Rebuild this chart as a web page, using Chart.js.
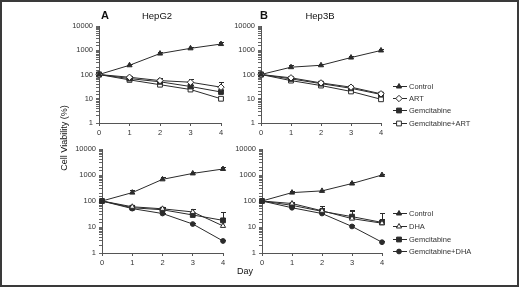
<!DOCTYPE html>
<html>
<head>
<meta charset="utf-8">
<script src="https://cdn.jsdelivr.net/npm/chart.js@4.4.0/dist/chart.umd.min.js"></script>
<style>
  body { margin: 0; background: #fff; }
  #page { position: relative; width: 520px; height: 288px; overflow: hidden; }
  #frame { position: absolute; left: 0; top: 0; width: 515px; height: 283px; border: 2px solid #3a3a3a; }
  canvas { position: absolute; }
</style>
</head>
<body>
<div id="page">
  <div id="frame"></div>
  <canvas id="texts" width="520" height="288" style="left:0;top:0;"></canvas>
</div>
<script>
// ---------------------------------------------------------------- DATA

var days = [0, 1, 2, 3, 4];
var yTickValues = [1, 10, 100, 1000, 10000];

var legendArt = ["Control", "ART", "Gemcitabine", "Gemcitabine+ART"];
var legendDha = ["Control", "DHA", "Gemcitabine", "Gemcitabine+DHA"];

// A top: HepG2, ART
var hepg2Control   = [100, 240, 730, 1200, 1800];
var hepg2ControlSd = [0, 40, 150, 200, 450];
var hepg2Art       = [100, 77, 56, 48, 30];
var hepg2ArtSd     = [0, 6, 15, 15, 20];
var hepg2Gem       = [100, 68, 50, 32, 19];
var hepg2GemSd     = [0, 5, 8, 6, 5];
var hepg2GemArt    = [100, 60, 38, 24, 10];
var hepg2GemArtSd  = [0, 4, 4, 3, 1.5];

// B top: Hep3B, ART
var hep3bControl   = [100, 200, 240, 500, 980];
var hep3bControlSd = [0, 40, 40, 80, 150];
var hep3bArt       = [100, 73, 45, 30, 16];
var hep3bArtSd     = [0, 6, 5, 4, 2];
var hep3bGem       = [100, 66, 42, 27, 15];
var hep3bGemSd     = [0, 6, 5, 4, 3];
var hep3bGemArt    = [100, 56, 35, 20, 9.5];
var hep3bGemArtSd  = [0, 4, 3, 2, 1];

// A bottom: HepG2, DHA
var hepg2Control2   = [100, 210, 680, 1150, 1700];
var hepg2Control2Sd = [0, 50, 150, 200, 300];
var hepg2Dha        = [100, 60, 50, 38, 11];
var hepg2DhaSd      = [0, 8, 10, 10, 27];
var hepg2Gem2       = [100, 55, 46, 29, 18];
var hepg2Gem2Sd     = [0, 8, 8, 5, 5];
var hepg2GemDha     = [100, 51, 33, 13, 2.9];
var hepg2GemDhaSd   = [0, 5, 3, 1.5, 0.4];

// B bottom: Hep3B, DHA
var hep3bControl2   = [100, 210, 245, 470, 1000];
var hep3bControl2Sd = [0, 30, 30, 80, 100];
var hep3bDha        = [100, 80, 42, 21, 14];
var hep3bDhaSd      = [0, 8, 20, 20, 6];
var hep3bGem2       = [100, 68, 40, 25, 15];
var hep3bGem2Sd     = [0, 10, 12, 20, 20];
var hep3bGemDha     = [100, 55, 33, 10.5, 2.6];
var hep3bGemDhaSd   = [0, 5, 3, 1, 0.3];

// ---------------------------------------------------------------- STYLE

var INK = "#2b2b2b";
var FONT = "'Liberation Sans', Arial, sans-serif";
var markers = {
  control: { pointStyle: "triangle", radius: 3.0, fill: INK },
  art:     { pointStyle: "rectRot",  radius: 3.2, fill: "#fff" },
  gem:     { pointStyle: "rect",     radius: 3.4, fill: INK },
  gemOpen: { pointStyle: "rect",     radius: 3.4, fill: "#fff" },
  dha:     { pointStyle: "triangle", radius: 3.0, fill: "#fff" },
  gemDha:  { pointStyle: "circle",   radius: 2.4, fill: INK }
};

// panel letters, titles and shared axis titles
(function () {
  var t = document.getElementById("texts").getContext("2d");
  t.fillStyle = "#111";
  t.textBaseline = "middle";
  t.font = "bold 11px " + FONT;
  t.fillText("A", 101, 16);
  t.fillText("B", 260, 16);
  t.textAlign = "center";
  t.font = "9.5px " + FONT;
  t.fillText("HepG2", 157, 16);
  t.fillText("Hep3B", 320, 16);
  t.font = "9px " + FONT;
  t.fillText("Day", 245, 272);
  t.save();
  t.translate(65, 138);
  t.rotate(-Math.PI / 2);
  t.fillText("Cell Viability (%)", 0, 0);
  t.restore();
})();

function series(label, values, sd, m) {
  return {
    label: label,
    data: days.map(function (d, i) { return { x: d, y: values[i] }; }),
    sd: sd,
    borderColor: INK,
    borderWidth: 1,
    pointStyle: m.pointStyle,
    pointRadius: m.radius,
    pointBackgroundColor: m.fill,
    pointBorderColor: INK,
    pointBorderWidth: 1,
    clip: false
  };
}

// positive error bars (mean + SD), drawn under the markers
var errorBars = {
  id: "errorBars",
  beforeDatasetsDraw: function (chart) {
    var ctx = chart.ctx, ys = chart.scales.y, xs = chart.scales.x;
    ctx.save();
    ctx.strokeStyle = INK;
    ctx.lineWidth = 1;
    chart.data.datasets.forEach(function (ds) {
      ds.data.forEach(function (p, i) {
        var e = ds.sd[i];
        if (!e) return;
        var x = Math.round(xs.getPixelForValue(p.x)) + 0.5;
        var top = Math.round(ys.getPixelForValue(p.y + e)) + 0.5;
        var mid = ys.getPixelForValue(p.y);
        ctx.beginPath();
        ctx.moveTo(x, top); ctx.lineTo(x, mid);
        ctx.moveTo(x - 2.5, top); ctx.lineTo(x + 2.5, top);
        ctx.stroke();
      });
    });
    ctx.restore();
  }
};

function drawMarker(ctx, ds, x, y) {
  var opts = {
    pointStyle: ds.pointStyle, radius: ds.pointRadius, rotation: 0, borderWidth: 1
  };
  ctx.fillStyle = ds.pointBackgroundColor;
  ctx.strokeStyle = ds.pointBorderColor;
  ctx.lineWidth = 1;
  Chart.helpers.drawPoint(ctx, opts, x, y);
}

// legend at the right of the B panels
function sideLegend(names, x, y0, dy) {
  return {
    id: "sideLegend",
    afterDraw: function (chart) {
      var ctx = chart.ctx;
      ctx.save();
      ctx.font = "7.5px " + FONT;
      ctx.textBaseline = "middle";
      chart.data.datasets.forEach(function (ds, i) {
        var y = Math.round(y0 + i * dy) + 0.5;
        ctx.strokeStyle = INK;
        ctx.lineWidth = 1;
        ctx.beginPath();
        ctx.moveTo(x, y); ctx.lineTo(x + 14, y);
        ctx.stroke();
        drawMarker(ctx, ds, x + 6, y);
        ctx.fillStyle = "#333";
        ctx.fillText(names[i], x + 16, y);
      });
      ctx.restore();
    }
  };
}

// ---------------------------------------------------------------- CHART

var Y_W = 45, X_H = 20, PAD_T = 12;

function makePanel(box, datasets, legend) {
  var padR = legend ? 520 - box.r : 12;
  var canvas = document.createElement("canvas");
  var left = box.l - Y_W, top = box.t - PAD_T;
  canvas.width = (box.r - box.l) + Y_W + padR;
  canvas.height = (box.b - box.t) + PAD_T + X_H;
  canvas.style.left = left + "px";
  canvas.style.top = top + "px";
  document.getElementById("page").appendChild(canvas);

  var plugins = [errorBars];
  if (legend) plugins.push(sideLegend(legend.names, legend.x - left, legend.y - top, legend.dy));

  return new Chart(canvas.getContext("2d"), {
    type: "line",
    data: { datasets: datasets },
    plugins: plugins,
    options: {
      responsive: false,
      animation: false,
      layout: { padding: { left: 0, top: PAD_T, right: padR, bottom: 0 } },
      plugins: { legend: { display: false }, tooltip: { enabled: false } },
      scales: {
        x: {
          type: "linear", min: 0, max: 4,
          afterFit: function (s) { s.height = X_H; },
          ticks: { stepSize: 1, color: "#333", padding: 2,
                   font: { family: FONT, size: 7.5 } },
          grid: { drawOnChartArea: false, tickLength: 3, color: "#555" },
          border: { color: "#555", width: 1 }
        },
        y: {
          type: "logarithmic", min: 1, max: 10000,
          afterFit: function (s) { s.width = Y_W; },
          ticks: {
            autoSkip: false, color: "#333", padding: 3,
            font: { family: FONT, size: 7.5 },
            callback: function (v) { return yTickValues.indexOf(v) >= 0 ? String(v) : ""; }
          },
          grid: { drawOnChartArea: false, tickLength: 3, color: "#666" },
          border: { color: "#555", width: 1 }
        }
      }
    }
  });
}

makePanel({ l: 99, t: 26, r: 221, b: 123 }, [
  series("Control", hepg2Control, hepg2ControlSd, markers.control),
  series("ART", hepg2Art, hepg2ArtSd, markers.art),
  series("Gemcitabine", hepg2Gem, hepg2GemSd, markers.gem),
  series("Gemcitabine+ART", hepg2GemArt, hepg2GemArtSd, markers.gemOpen)
]);

makePanel({ l: 261, t: 26, r: 381, b: 123 }, [
  series("Control", hep3bControl, hep3bControlSd, markers.control),
  series("ART", hep3bArt, hep3bArtSd, markers.art),
  series("Gemcitabine", hep3bGem, hep3bGemSd, markers.gem),
  series("Gemcitabine+ART", hep3bGemArt, hep3bGemArtSd, markers.gemOpen)
], { names: legendArt, x: 393, y: 86, dy: 12.2 });

makePanel({ l: 102, t: 149, r: 223, b: 253 }, [
  series("Control", hepg2Control2, hepg2Control2Sd, markers.control),
  series("DHA", hepg2Dha, hepg2DhaSd, markers.dha),
  series("Gemcitabine", hepg2Gem2, hepg2Gem2Sd, markers.gem),
  series("Gemcitabine+DHA", hepg2GemDha, hepg2GemDhaSd, markers.gemDha)
]);

makePanel({ l: 262, t: 149, r: 382, b: 253 }, [
  series("Control", hep3bControl2, hep3bControl2Sd, markers.control),
  series("DHA", hep3bDha, hep3bDhaSd, markers.dha),
  series("Gemcitabine", hep3bGem2, hep3bGem2Sd, markers.gem),
  series("Gemcitabine+DHA", hep3bGemDha, hep3bGemDhaSd, markers.gemDha)
], { names: legendDha, x: 393, y: 213, dy: 12.8 });
</script>
</body>
</html>
